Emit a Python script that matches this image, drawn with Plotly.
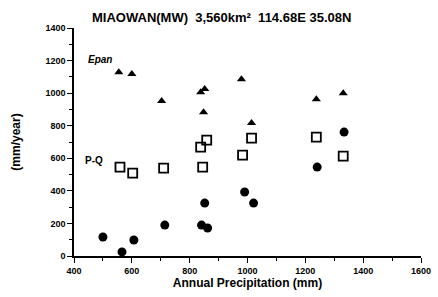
import plotly.graph_objects as go

# Epan (triangles)
epan_x = [555, 600, 703, 838, 852, 848, 979, 1014, 1238, 1331]
epan_y = [1129, 1117, 951, 1006, 1025, 883, 1086, 816, 963, 1000]

# P-Q (open squares)
pq_x = [559, 603, 710, 838, 859, 845, 1014, 983, 1238, 1331]
pq_y = [546, 509, 540, 669, 712, 546, 724, 620, 730, 613]

# Q (filled circles)
q_x = [500, 566, 607, 714, 852, 841, 862, 990, 1021, 1241, 1334]
q_y = [117, 25, 98, 190, 325, 190, 172, 393, 325, 546, 761]

x_ticks = [400, 600, 800, 1000, 1200, 1400, 1600]
y_ticks = [0, 200, 400, 600, 800, 1000, 1200, 1400]

FAM = "Liberation Sans, Arial"

fig = go.Figure()
fig.add_trace(go.Scatter(x=epan_x, y=epan_y, mode="markers",
                         marker=dict(symbol="triangle-up", size=8, color="black")))
fig.add_trace(go.Scatter(x=pq_x, y=pq_y, mode="markers",
                         marker=dict(symbol="square-open", size=9, color="black",
                                     line=dict(width=1.8))))
fig.add_trace(go.Scatter(x=q_x, y=q_y, mode="markers",
                         marker=dict(symbol="circle", size=9, color="black")))

tickfont = dict(family=FAM, size=9, color="black", weight="bold")

fig.update_layout(
    width=438, height=297,
    margin=dict(l=74, r=17, t=28, b=41),
    paper_bgcolor="white", plot_bgcolor="white",
    showlegend=False,
    font=dict(family=FAM, size=8, color="black"),
    xaxis=dict(range=[400, 1600], tickvals=x_ticks, ticktext=[str(v) for v in x_ticks],
               automargin=False,
               showgrid=False, zeroline=False, showline=True, linecolor="black", linewidth=1.5,
               ticks="outside", ticklen=5, tickwidth=1, tickcolor="black",
               minor=dict(dtick=100, ticks="outside", ticklen=3, tickcolor="black"),
               tickfont=tickfont,
               title=dict(text="Annual Precipitation (mm)", standoff=4,
                          font=dict(family=FAM, size=12, color="black", weight="bold"))),
    yaxis=dict(range=[0, 1400], tickvals=y_ticks, ticktext=[str(v) for v in y_ticks],
               showgrid=False, zeroline=False, showline=True, linecolor="black", linewidth=1.5,
               ticks="outside", ticklen=5, tickwidth=1, tickcolor="black",
               minor=dict(dtick=100, ticks="outside", ticklen=3, tickcolor="black"),
               tickfont=tickfont,
               title=dict(text="(mm/year)", standoff=22,
                          font=dict(family=FAM, size=12, color="black", weight="bold"))),
    annotations=[
        dict(xref="paper", yref="paper", x=0.425, y=1.044, xanchor="center", yanchor="middle",
             text="MIAOWAN(MW)  3,560km²  114.68E 35.08N", showarrow=False,
             font=dict(family=FAM, size=13, color="black", weight="bold")),
        dict(x=490, y=1205, text="<i>Epan</i>", showarrow=False,
             font=dict(family=FAM, size=10, color="black", weight="bold")),
        dict(x=470, y=585, text="P-Q", showarrow=False,
             font=dict(family=FAM, size=10, color="black", weight="bold")),
    ],
)

fig.write_html("out.html", post_script="document.body.style.margin='0';",
               config={"displayModeBar": False})
